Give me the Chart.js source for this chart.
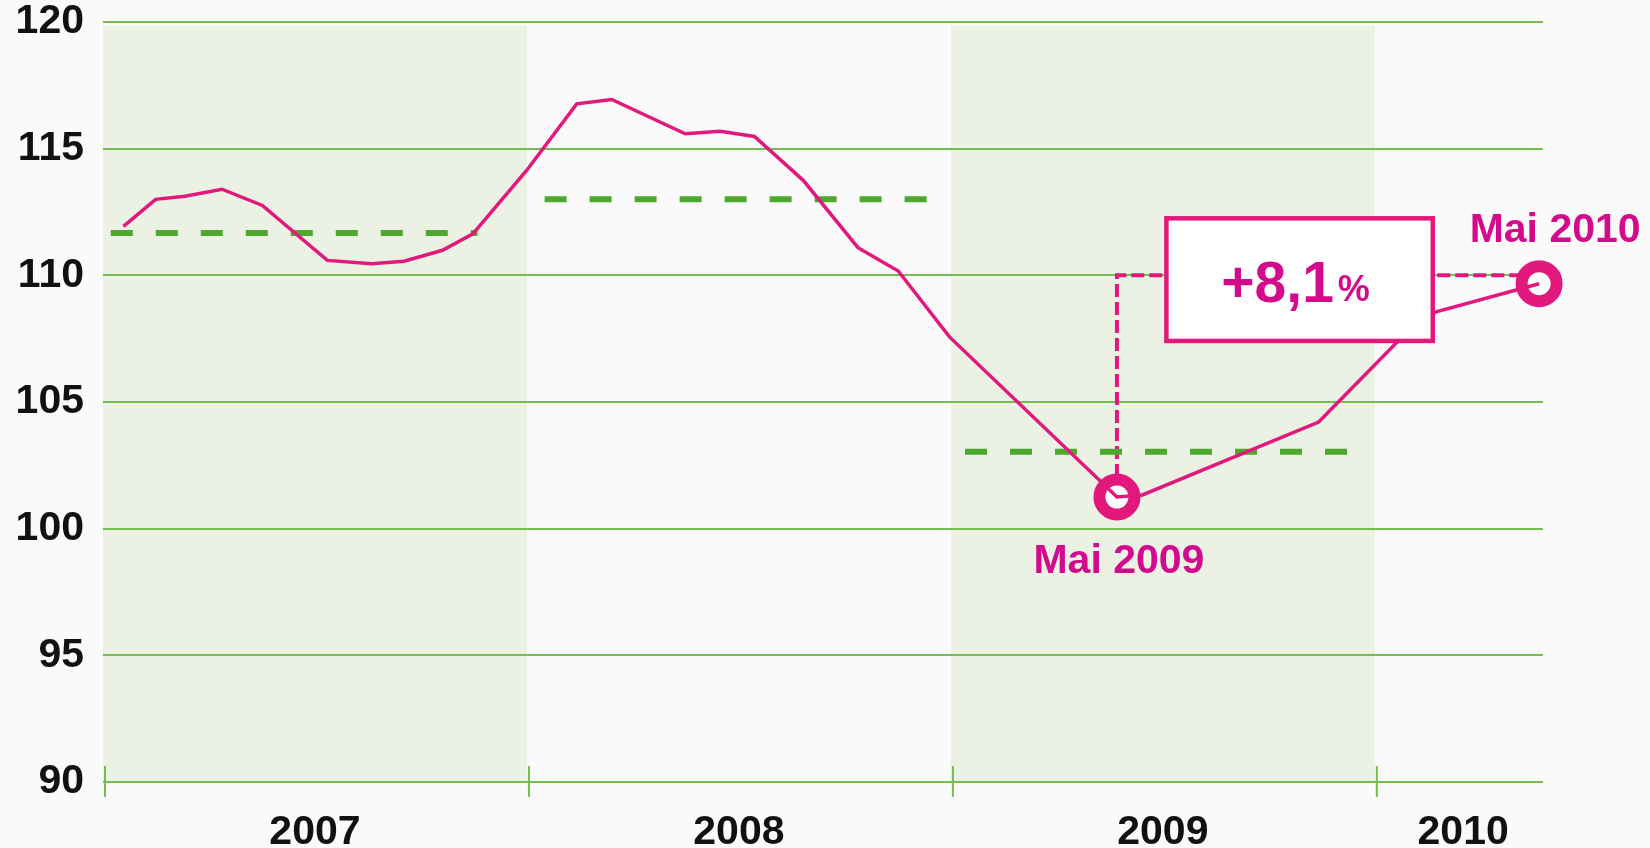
<!DOCTYPE html>
<html>
<head>
<meta charset="utf-8">
<script src="https://cdn.jsdelivr.net/npm/chart.js@4.4.1/dist/chart.umd.min.js"></script>
<style>
    html, body { margin: 0; padding: 0; background: #fafafa; }
    #wrap { width: 1650px; height: 848px; position: relative; }
</style>
</head>
<body>
<div id="wrap"><canvas id="lineChart"></canvas></div>
<script>
// x = months since 1 Jan 2007
const monthPos = [0.58, 1.49, 2.32, 3.37, 4.51, 6.35, 7.60, 8.52, 9.61, 10.47, 11.99, 13.41, 14.40, 16.48, 17.47, 18.44, 19.82, 21.37, 22.51, 23.96, 28.70, 29.42, 34.41, 36.59, 37.71, 40.65];
const indexValues = [111.93, 113.0, 113.12, 113.4, 112.76, 110.59, 110.46, 110.56, 110.99, 111.64, 114.14, 116.77, 116.94, 115.59, 115.69, 115.48, 113.75, 111.09, 110.17, 107.57, 101.25, 101.33, 104.21, 107.31, 108.55, 109.67];

// yearly averages (dashed green)
const avgValues = [111.67, 113.0, 103.04];
const avgFrom = [0.22, 12.5, 24.4];
const avgTo = [10.6, 23.8, 35.7];

const yearLabels = ["2007", "2008", "2009", "2010"];
const yearLabelPos = [6, 18, 30, 38.5];
const yearBounds = [0, 12, 24, 36];
const shadedYears = [[0, 12], [24, 36]];

const yTicks = [90, 95, 100, 105, 110, 115, 120];

// highlighted points: Mai 2009, Mai 2010
const highlightIdx = [20, 25];
const highlightLabels = ["Mai 2009", "Mai 2010"];
const changeText = "+8,1";
const changeUnit = "%";
const refLevel = 110;

const PINK = "#e2187c";
const MAGENTA = "#d40a8c";
const GREEN = "#4ea82e";
const GRID = "#74bd52";
const FONT = "'Liberation Sans', Arial, sans-serif";

document.addEventListener("DOMContentLoaded", function () {
    const ctx = document.getElementById("lineChart").getContext("2d");
    Chart.defaults.font.family = FONT;

    const lineData = monthPos.map((m, i) => ({ x: m, y: indexValues[i] }));
    const pointData = highlightIdx.map(i => lineData[i]);

    const avgSets = avgValues.map((v, i) => ({
        data: [{ x: avgFrom[i], y: v }, { x: avgTo[i], y: v }],
        borderColor: GREEN,
        borderWidth: 6,
        borderDash: [22, 23],
        borderCapStyle: "butt",
        pointRadius: 0,
        order: 2
    }));

    // background, shaded years, year ticks
    const backdrop = {
        id: "backdrop",
        beforeDraw(chart) {
            const c = chart.ctx, a = chart.chartArea, x = chart.scales.x;
            c.save();
            c.fillStyle = "#fafafa";
            c.fillRect(0, 0, chart.width, chart.height);
            c.fillStyle = "#ecf2e3";
            shadedYears.forEach(([s, e]) => {
                const x0 = x.getPixelForValue(s), x1 = x.getPixelForValue(e);
                c.fillRect(x0, a.top + 4, x1 - x0, a.bottom - a.top - 4);
            });
            c.restore();
        },
        afterDraw(chart) {
            const c = chart.ctx, a = chart.chartArea, x = chart.scales.x;
            c.save();
            c.strokeStyle = GRID;
            c.lineWidth = 2;
            yearBounds.forEach(b => {
                const px = x.getPixelForValue(b) + 2;
                c.beginPath();
                c.moveTo(px, a.bottom - 16);
                c.lineTo(px, a.bottom + 15);
                c.stroke();
            });
            c.restore();
        }
    };

    // dashed pink guides, box and labels
    const annotation = {
        id: "annotation",
        beforeDatasetsDraw(chart) {
            const c = chart.ctx, x = chart.scales.x, y = chart.scales.y;
            const p0 = pointData[0], p1 = pointData[1];
            const x0 = x.getPixelForValue(p0.x), x1 = x.getPixelForValue(p1.x);
            const yr = y.getPixelForValue(refLevel);
            c.save();
            c.strokeStyle = PINK;
            c.lineWidth = 4;
            c.setLineDash([13, 5]);
            c.beginPath();
            c.moveTo(x0, y.getPixelForValue(p0.y) - 20);
            c.lineTo(x0, yr);
            c.lineTo(x1, yr);
            c.stroke();
            c.restore();
        },
        afterDatasetsDraw(chart) {
            const c = chart.ctx, x = chart.scales.x, y = chart.scales.y;
            const bx0 = x.getPixelForValue(30.1), bx1 = x.getPixelForValue(37.64);
            const by0 = y.getPixelForValue(112.25), by1 = y.getPixelForValue(107.41);
            c.save();
            c.fillStyle = "#ffffff";
            c.fillRect(bx0, by0, bx1 - bx0, by1 - by0);
            c.strokeStyle = PINK;
            c.lineWidth = 4.5;
            c.strokeRect(bx0, by0, bx1 - bx0, by1 - by0);

            c.fillStyle = MAGENTA;
            c.textBaseline = "alphabetic";
            c.font = "bold 57px " + FONT;
            const w1 = c.measureText(changeText).width;
            c.font = "bold 36px " + FONT;
            const w2 = c.measureText(changeUnit).width;
            const tx = (bx0 + bx1) / 2 - (w1 + w2 + 4) / 2 - 4;
            const ty = (by0 + by1) / 2 + 22;
            c.textAlign = "left";
            c.font = "bold 57px " + FONT;
            c.fillText(changeText, tx, ty);
            c.font = "bold 36px " + FONT;
            c.fillText(changeUnit, tx + w1 + 4, ty - 1);

            c.textAlign = "center";
            c.font = "bold 41px " + FONT;
            const p0 = pointData[0], p1 = pointData[1];
            c.fillText(highlightLabels[0], x.getPixelForValue(p0.x) + 2, y.getPixelForValue(p0.y) + 76);
            c.fillText(highlightLabels[1], x.getPixelForValue(p1.x) + 16, y.getPixelForValue(p1.y) - 42);
            c.restore();
        }
    };

    new Chart(ctx, {
        type: "line",
        data: {
            datasets: [
                {
                    data: lineData,
                    borderColor: PINK,
                    borderWidth: 3.5,
                    pointRadius: 0,
                    tension: 0,
                    clip: false,
                    order: 0
                },
                {
                    data: pointData,
                    showLine: false,
                    pointRadius: 17.5,
                    pointBorderWidth: 12,
                    pointBorderColor: PINK,
                    pointBackgroundColor: "#ffffff",
                    clip: false,
                    order: 1
                },
                ...avgSets
            ]
        },
        options: {
            responsive: true,
            maintainAspectRatio: false,
            animation: false,
            devicePixelRatio: 1,
            layout: { autoPadding: false, padding: { left: 0, right: 107, top: 22, bottom: 0 } },
            plugins: {
                legend: { display: false },
                tooltip: { enabled: false }
            },
            scales: {
                x: {
                    type: "linear",
                    min: 0,
                    max: 40.76,
                    grid: { display: false },
                    border: { display: false },
                    afterBuildTicks: scale => { scale.ticks = yearLabelPos.map(v => ({ value: v })); },
                    afterFit: scale => {
                        scale.height = 66;
                        scale.paddingLeft = 0;
                        scale.paddingRight = 0;
                    },
                    ticks: {
                        autoSkip: false,
                        maxRotation: 0,
                        padding: 18,
                        color: "#111111",
                        font: { size: 41, weight: "bold" },
                        callback: (value, index) => yearLabels[index]
                    }
                },
                y: {
                    min: 90,
                    max: 120,
                    afterBuildTicks: scale => { scale.ticks = yTicks.map(v => ({ value: v })); },
                    afterFit: scale => {
                        scale.width = 103;
                        scale.paddingTop = 0;
                        scale.paddingBottom = 0;
                    },
                    grid: { color: GRID, lineWidth: 2, drawTicks: false },
                    border: { display: false },
                    ticks: {
                        padding: 19,
                        color: "#111111",
                        font: { size: 41, weight: "bold" }
                    }
                }
            }
        },
        plugins: [backdrop, annotation]
    });
});
</script>
</body>
</html>
